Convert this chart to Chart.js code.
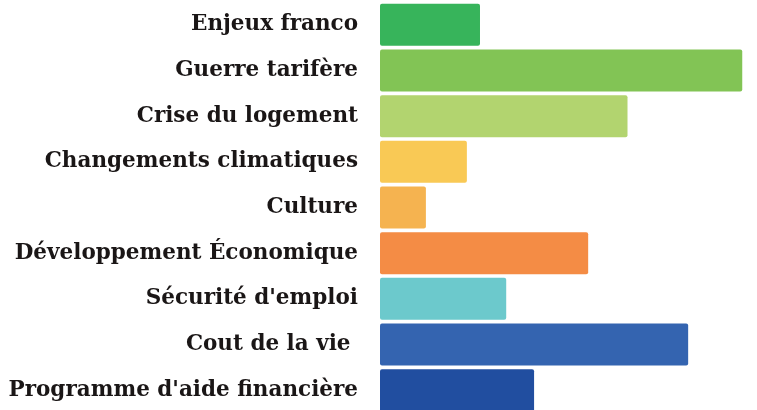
<!DOCTYPE html>
<html>
<head>
<meta charset="utf-8">
<script src="https://cdn.jsdelivr.net/npm/chart.js@4.4.1/dist/chart.umd.min.js"></script>
<style>
	html, body { margin: 0; padding: 0; background: #ffffff; overflow: hidden; }
	#wrap { position: relative; width: 757px; height: 415px; }
</style>
</head>
<body>
<div id="wrap"><canvas id="enjeux" width="757" height="415" style="width:757px;height:415px;"></canvas></div>
<script>

var categories = [
	"Enjeux franco",
	"Guerre tarifère",
	"Crise du logement",
	"Changements climatiques",
	"Culture",
	"Développement Économique",
	"Sécurité d'emploi",
	"Cout de la vie ",
	"Programme d'aide financière"
];

// valeurs estimées (%)
var valeurs = [6.1, 22.1, 15.1, 5.3, 2.8, 12.7, 7.7, 18.8, 9.4];

var couleurs = [
	"#37b45b",
	"#82c455",
	"#b2d46f",
	"#f9c955",
	"#f5b350",
	"#f48c45",
	"#6cc9cc",
	"#3464b0",
	"#214ea0"
];

function init_chart_enjeux(){

	if( typeof (Chart) === 'undefined'){ return; }

	var chart_bar_settings = {
		type: 'bar',
		data: {
			labels: categories,
			datasets: [{
				data: valeurs,
				backgroundColor: couleurs,
				borderWidth: 0,
				borderRadius: 2,
				borderSkipped: false,
				barPercentage: 0.92,
				categoryPercentage: 1
			}]
		},
		options: {
			indexAxis: 'y',
			responsive: false,
			animation: false,
			layout: { padding: 0 },
			plugins: {
				legend: { display: false },
				tooltip: { enabled: false }
			},
			scales: {
				x: {
					display: false,
					min: 0,
					max: 23
				},
				y: {
					// petite hauteur de ligne: sinon l'axe réserve de la marge en haut/bas
					grid: { display: false, drawTicks: true, tickLength: 22 },
					border: { display: false },
					ticks: {
						color: '#1a1616',
						padding: 0,
						font: { family: "'DejaVu Serif', serif", weight: 'bold', size: 21.5, lineHeight: '4px' }
					},
					afterFit: function(scale){ scale.width = 380; }
				}
			}
		}
	};

	var chart_bar = new Chart(document.getElementById('enjeux'), chart_bar_settings);
}

init_chart_enjeux();
</script>
</body>
</html>
